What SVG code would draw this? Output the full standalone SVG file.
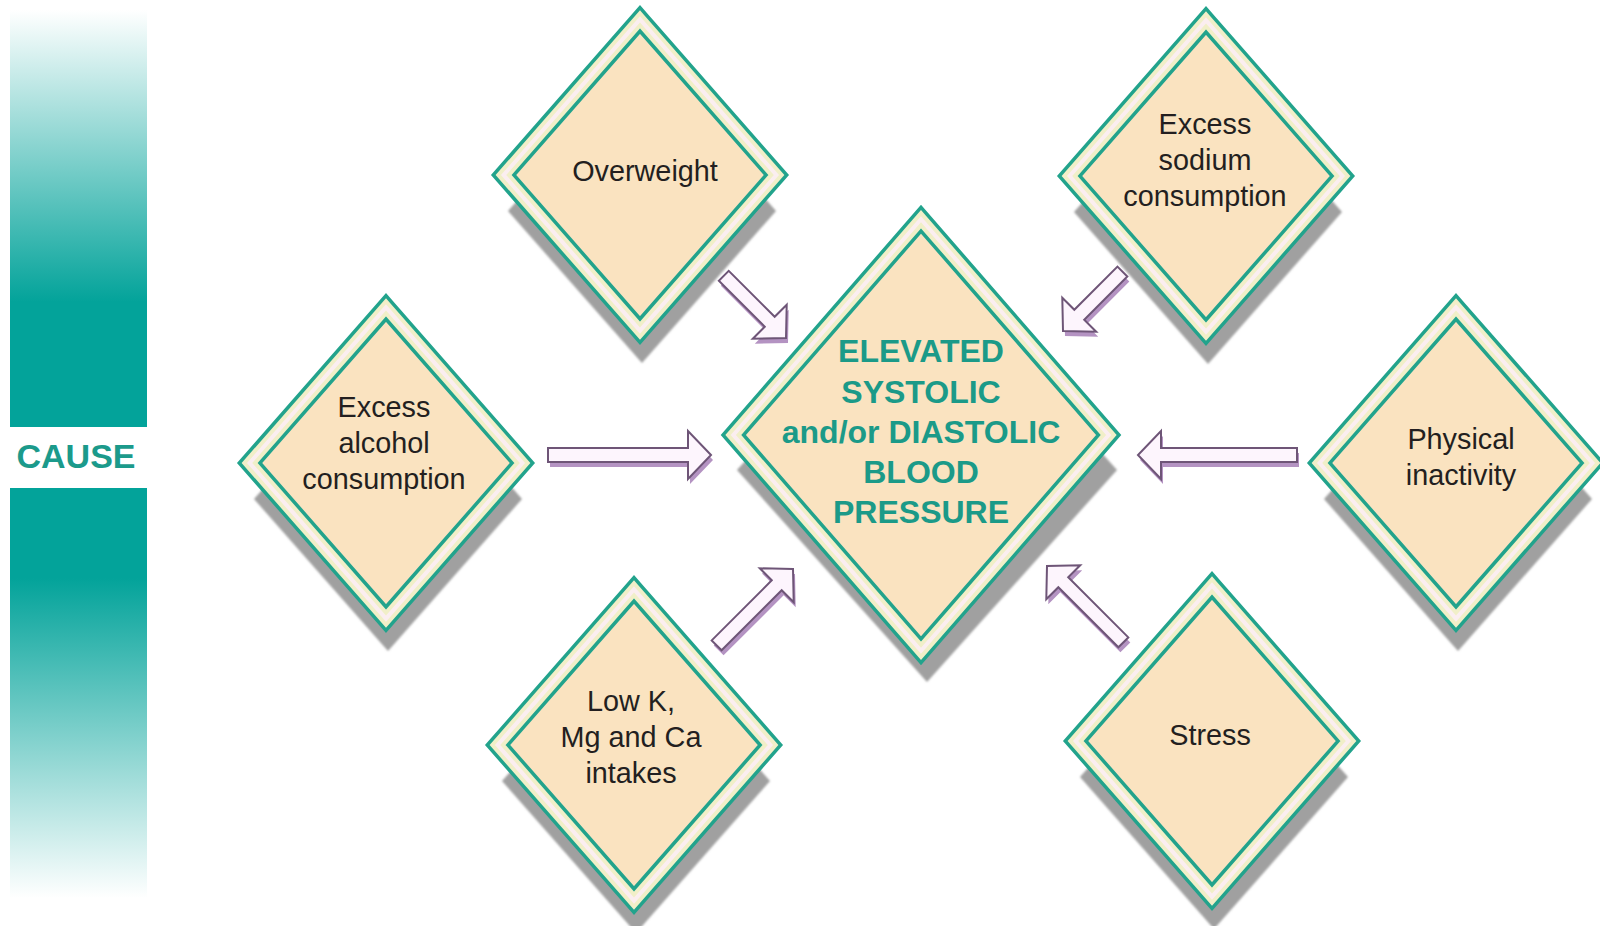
<svg xmlns="http://www.w3.org/2000/svg" xmlns:xlink="http://www.w3.org/1999/xlink" width="1600" height="926" viewBox="0 0 1600 926">
<style>
.b1{fill:#fae3c0;stroke:#22a38c;stroke-width:19;stroke-linejoin:miter}
.b2{fill:none;stroke:#f1efc8;stroke-width:12;stroke-linejoin:miter}
.b3{fill:none;stroke:#fbeef0;stroke-width:4;stroke-linejoin:miter}
.sh{fill:#a0a0a0;filter:url(#blur)}
.t{font-family:"Liberation Sans",Arial,sans-serif;font-size:28.8px;fill:#231f20;text-anchor:middle}
.ct{font-family:"Liberation Sans",Arial,sans-serif;font-size:32px;font-weight:bold;fill:#1b9a88;text-anchor:middle}
.arr{fill:#fdf5fd;stroke:#6e5577;stroke-width:2;stroke-linejoin:miter}
.ash{fill:#b493c2}
</style>
<defs>
<filter id="blur" x="-10%" y="-10%" width="120%" height="120%"><feGaussianBlur stdDeviation="1.2"/></filter>
<linearGradient id="gup" x1="0" y1="0" x2="0" y2="1">
<stop offset="0" stop-color="#ffffff"/>
<stop offset="0.7" stop-color="#03a39a"/>
<stop offset="1" stop-color="#03a39a"/>
</linearGradient>
<linearGradient id="gdn" x1="0" y1="0" x2="0" y2="1">
<stop offset="0" stop-color="#03a39a"/>
<stop offset="0.22" stop-color="#03a39a"/>
<stop offset="1" stop-color="#ffffff"/>
</linearGradient>
<polygon id="dshape" points="0,-155.6 136.4,0 0,155.6 -136.4,0"/>
<polygon id="dshadow" points="2,-116 136,36 2,188 -132,36"/>
<polygon id="cshape" points="0,-215.8 187.7,0 0,215.8 -187.7,0"/>
<polygon id="cshadow" points="6,-177 196,35 6,247 -184,35"/>
<g id="dbody">
<use xlink:href="#dshape" href="#dshape" class="b1"/>
<use xlink:href="#dshape" href="#dshape" class="b2"/>
<use xlink:href="#dshape" href="#dshape" class="b3"/>
</g>
<g id="cbody">
<use xlink:href="#cshape" href="#cshape" class="b1"/>
<use xlink:href="#cshape" href="#cshape" class="b2"/>
<use xlink:href="#cshape" href="#cshape" class="b3"/>
</g>
</defs>
<rect width="1600" height="926" fill="#ffffff"/>

<g id="cause-bar">
<rect x="10" y="10" width="137" height="417" fill="url(#gup)"/>
<rect x="10" y="488" width="137" height="410" fill="url(#gdn)"/>
<text x="76" y="468" font-family="Liberation Sans,Arial,sans-serif" font-size="34" font-weight="bold" fill="#1b9a8b" text-anchor="middle">CAUSE</text>
</g>

<g id="connectors">
<g transform="translate(713,460)"><path class="ash" d="M0,0 L-23,-24 L-23,-7 L-163,-7 L-163,7 L-23,7 L-23,24 Z"/></g>
<g transform="translate(711,455)"><path class="arr" d="M0,0 L-23,-24 L-23,-7 L-163,-7 L-163,7 L-23,7 L-23,24 Z"/></g>
<g transform="translate(1140,460) rotate(180)"><path class="ash" d="M0,0 L-23,-24 L-23,-7 L-159,-7 L-159,7 L-23,7 L-23,24 Z"/></g>
<g transform="translate(1138,455) rotate(180)"><path class="arr" d="M0,0 L-23,-24 L-23,-7 L-159,-7 L-159,7 L-23,7 L-23,24 Z"/></g>
<g transform="translate(788,343) rotate(45)"><path class="ash" d="M0,0 L-23,-24 L-23,-7 L-88,-7 L-88,7 L-23,7 L-23,24 Z"/></g>
<g transform="translate(786,338) rotate(45)"><path class="arr" d="M0,0 L-23,-24 L-23,-7 L-88,-7 L-88,7 L-23,7 L-23,24 Z"/></g>
<g transform="translate(1065,336) rotate(135)"><path class="ash" d="M0,0 L-23,-24 L-23,-7 L-84,-7 L-84,7 L-23,7 L-23,24 Z"/></g>
<g transform="translate(1063,331) rotate(135)"><path class="arr" d="M0,0 L-23,-24 L-23,-7 L-84,-7 L-84,7 L-23,7 L-23,24 Z"/></g>
<g transform="translate(795,574) rotate(-45)"><path class="ash" d="M0,0 L-23,-24 L-23,-7 L-108,-7 L-108,7 L-23,7 L-23,24 Z"/></g>
<g transform="translate(793,569) rotate(-45)"><path class="arr" d="M0,0 L-23,-24 L-23,-7 L-108,-7 L-108,7 L-23,7 L-23,24 Z"/></g>
<g transform="translate(1049,571) rotate(-135)"><path class="ash" d="M0,0 L-23,-24 L-23,-7 L-108,-7 L-108,7 L-23,7 L-23,24 Z"/></g>
<g transform="translate(1047,566) rotate(-135)"><path class="arr" d="M0,0 L-23,-24 L-23,-7 L-108,-7 L-108,7 L-23,7 L-23,24 Z"/></g>
</g>

<g id="overweight" transform="translate(640,175)">
<use xlink:href="#dshadow" href="#dshadow" class="sh"/>
<use xlink:href="#dbody" href="#dbody"/>
<text class="t" x="5" y="6">Overweight</text>
</g>

<g id="sodium" transform="translate(1206,176)">
<use xlink:href="#dshadow" href="#dshadow" class="sh"/>
<use xlink:href="#dbody" href="#dbody"/>
<text class="t" x="-1" y="-42">Excess</text>
<text class="t" x="-1" y="-6">sodium</text>
<text class="t" x="-1" y="30">consumption</text>
</g>

<g id="alcohol" transform="translate(386,463)">
<use xlink:href="#dshadow" href="#dshadow" class="sh"/>
<use xlink:href="#dbody" href="#dbody"/>
<text class="t" x="-2" y="-46">Excess</text>
<text class="t" x="-2" y="-10">alcohol</text>
<text class="t" x="-2" y="26">consumption</text>
</g>

<g id="physical" transform="translate(1456,463)">
<use xlink:href="#dshadow" href="#dshadow" class="sh"/>
<use xlink:href="#dbody" href="#dbody"/>
<text class="t" x="5" y="-14">Physical</text>
<text class="t" x="5" y="22">inactivity</text>
</g>

<g id="lowk" transform="translate(634,745)">
<use xlink:href="#dshadow" href="#dshadow" class="sh"/>
<use xlink:href="#dbody" href="#dbody"/>
<text class="t" x="-3" y="-34">Low K,</text>
<text class="t" x="-3" y="2">Mg and Ca</text>
<text class="t" x="-3" y="38">intakes</text>
</g>

<g id="stress" transform="translate(1212,741)">
<use xlink:href="#dshadow" href="#dshadow" class="sh"/>
<use xlink:href="#dbody" href="#dbody"/>
<text class="t" x="-2" y="4">Stress</text>
</g>

<g id="elevated-bp" transform="translate(921,435)">
<use xlink:href="#cshadow" href="#cshadow" class="sh"/>
<use xlink:href="#cbody" href="#cbody"/>
<text class="ct" x="0" y="-73">ELEVATED</text>
<text class="ct" x="0" y="-32">SYSTOLIC</text>
<text class="ct" x="0" y="8">and/or DIASTOLIC</text>
<text class="ct" x="0" y="48">BLOOD</text>
<text class="ct" x="0" y="88">PRESSURE</text>
</g>
</svg>
